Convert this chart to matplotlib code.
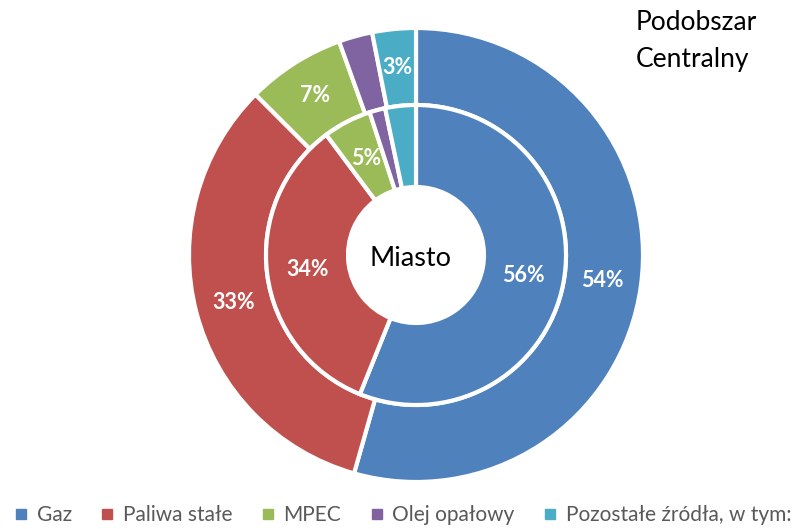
import matplotlib.pyplot as plt
from matplotlib.lines import Line2D

plt.rcParams['font.family'] = ['Lato', 'DejaVu Sans']

# heating sources, share of buildings (%)
sources = ["Gaz", "Paliwa stałe", "MPEC", "Olej opałowy", "Pozostałe źródła, w tym:"]
centralny = [54.4, 33.1, 7.0, 2.4, 3.1]   # outer ring: Podobszar Centralny
miasto = [56.1, 33.7, 5.2, 1.7, 3.3]      # inner ring: Miasto
label_outer = [True, True, True, False, True]
label_inner = [True, True, True, False, False]

colors = ["#4F81BD", "#C0504D", "#9BBB59", "#8064A2", "#4BACC6"]

W, H = 807, 529
fig = plt.figure(figsize=(W / 100, H / 100), dpi=100)
ax = fig.add_axes([0, 0, 1, 1])

cx, cy = 416, H - 255
r_out, r_mid, r_hole = 227, 150, 68


def pct_fmt(flags):
    it = iter(flags)
    return lambda p: f"{p:.0f}%" if next(it) else ""


wedge_kw = dict(edgecolor="white", linewidth=3)
text_kw = dict(color="white", fontsize=15.5, fontweight="bold")

ax.pie(centralny, colors=colors, radius=r_out, center=(cx, cy),
       startangle=90, counterclock=False,
       wedgeprops=dict(width=r_out - r_mid, **wedge_kw),
       autopct=pct_fmt(label_outer),
       pctdistance=(r_out + r_mid) / 2 / r_out, textprops=text_kw)
ax.pie(miasto, colors=colors, radius=r_mid, center=(cx, cy),
       startangle=90, counterclock=False,
       wedgeprops=dict(width=r_mid - r_hole, **wedge_kw),
       autopct=pct_fmt(label_inner),
       pctdistance=(r_mid + r_hole) / 2 / r_mid, textprops=text_kw)

ax.set_xlim(0, W)
ax.set_ylim(0, H)
ax.set_aspect("auto")
ax.axis("off")

ax.text(cx - 5, cy - 3, "Miasto", ha="center", va="center", fontsize=19.5, color="black")
fig.text(636 / W, 1 - 23 / H, "Podobszar", ha="left", va="center",
         fontsize=19, color="black")
fig.text(636 / W, 1 - 60 / H, "Centralny", ha="left", va="center",
         fontsize=19, color="black")

handles = [Line2D([], [], marker="s", linestyle="none", markersize=7,
                  markerfacecolor=c, markeredgecolor=c) for c in colors]
fig.legend(handles, sources, loc="center", bbox_to_anchor=(0.5, 1 - 515 / H),
           ncol=5, frameon=False, fontsize=15, labelcolor="#595959",
           handlelength=0.5, handletextpad=0.5, columnspacing=1.45,
           borderaxespad=0, borderpad=0)

fig.savefig("out.png", dpi=100)
